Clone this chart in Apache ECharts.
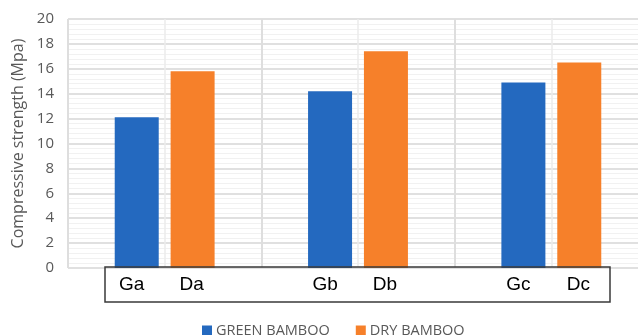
<!DOCTYPE html>
<html>
<head>
<meta charset="utf-8">
<script src="https://cdn.jsdelivr.net/npm/echarts@6/dist/echarts.min.js"></script>
<style>
  html, body { margin: 0; padding: 0; background: #fff; overflow: hidden; width: 638px; height: 335px; }
  /* plot area runs on past the right edge of the window */
  #chart { width: 648px; height: 335px; }
</style>
</head>
<body>
<div id="chart"></div>
<script>
// Compressive strength of bamboo samples, green vs dry
const categories = ['a', 'b', 'c'];
const greenLabels = ['Ga', 'Gb', 'Gc'];
const dryLabels = ['Da', 'Db', 'Dc'];
const greenBamboo = [12.1, 14.2, 14.9];
const dryBamboo = [15.8, 17.4, 16.5];
const yTicks = [0, 2, 4, 6, 8, 10, 12, 14, 16, 18, 20];

const grey = '#595959';
const chart = echarts.init(document.getElementById('chart'), null, { renderer: 'canvas' });

const barLabel = (names, dx) => ({
  show: true,
  position: 'bottom',
  distance: 7,
  offset: [dx, 0],
  color: '#000',
  fontFamily: 'Liberation Sans, Arial, sans-serif',
  fontSize: 19,
  formatter: p => names[p.dataIndex]
});

chart.setOption({
  animation: false,
  grid: { left: 68, top: 19, right: 0, bottom: 67 },
  xAxis: [
    {
      type: 'category',
      data: categories,
      axisLine: { show: false },
      axisTick: { show: false },
      axisLabel: { show: false },
      splitLine: { show: false }
    },
    {
      // background grid: group boundaries and group centres
      type: 'value',
      min: 0, max: 6, interval: 2,
      axisLine: { show: false },
      axisTick: { show: false },
      axisLabel: { show: false },
      splitLine: { show: true, lineStyle: { color: '#dedede', width: 2 } },
      minorTick: { show: false, splitNumber: 2 },
      minorSplitLine: { show: true, lineStyle: { color: '#ececec', width: 1.5 } }
    }
  ],
  yAxis: {
    type: 'value',
    min: yTicks[0],
    max: yTicks[yTicks.length - 1],
    interval: 2,
    name: 'Compressive strength (Mpa)',
    nameLocation: 'middle',
    nameGap: 40,
    nameTextStyle: { color: grey, fontFamily: 'Open Sans, sans-serif', fontSize: 16 },
    axisLine: { show: false },
    axisTick: { show: false },
    axisLabel: { color: grey, fontFamily: 'Open Sans, sans-serif', fontSize: 15, margin: 14 },
    splitLine: { show: true, lineStyle: { color: '#e0e0e0', width: 2 } },
    minorTick: { show: false, splitNumber: 5 },
    minorSplitLine: { show: true, lineStyle: { color: '#f1f1f1', width: 1 } }
  },
  legend: {
    left: 197,
    top: 318,
    icon: 'rect',
    itemWidth: 10,
    itemHeight: 10,
    itemGap: 26,
    textStyle: { color: grey, fontFamily: 'Open Sans, sans-serif', fontSize: 14.5, padding: [0, 0, 0, -1] },
    data: ['GREEN BAMBOO', 'DRY BAMBOO']
  },
  series: [
    {
      name: 'GREEN BAMBOO',
      type: 'bar',
      data: greenBamboo,
      barWidth: 44,
      barGap: '27%',
      itemStyle: { color: '#2469bf' },
      label: barLabel(greenLabels, -5)
    },
    {
      name: 'DRY BAMBOO',
      type: 'bar',
      data: dryBamboo,
      barWidth: 44,
      barGap: '27%',
      itemStyle: { color: '#f6802a' },
      label: barLabel(dryLabels, -1)
    }
  ],
  graphic: [
    {
      type: 'rect',
      z: 100,
      shape: { x: 105, y: 267, width: 505, height: 35 },
      style: { fill: 'none', stroke: '#3a3a3a', lineWidth: 1.5 }
    }
  ]
});
</script>
</body>
</html>
